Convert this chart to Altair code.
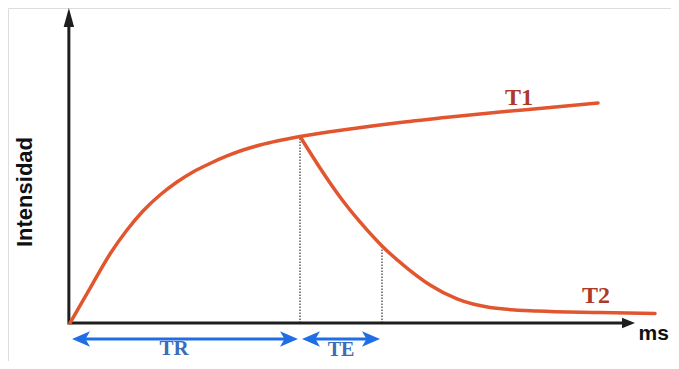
import altair as alt
import pandas as pd

# ---- data (arbitrary units: time axis 0..100, intensity 0..100) ----
t1_x = [0, 4.07, 7.08, 10.09, 12.92, 15.93, 18.94, 21.77, 24.78, 27.79, 30.62,
        33.63, 36.64, 40.71, 49.56, 58.41, 67.26, 76.11, 84.96, 93.45]
t1_y = [0, 12.86, 22.19, 29.90, 36.01, 41.16, 45.34, 48.55, 51.29, 53.70, 55.63,
        57.23, 58.52, 59.97, 62.38, 64.47, 66.24, 67.85, 69.29, 70.74]

t2_x = [40.71, 44.25, 47.79, 51.33, 55.22, 59.65, 63.72, 68.50, 74.34, 82.65, 93.81, 103.54]
t2_y = [59.97, 49.84, 40.51, 32.48, 24.76, 17.68, 12.22, 7.72, 4.98, 3.86, 3.38, 3.05]

TR = 40.71          # repetition time mark
TE_END = 55.22      # echo time mark
dotted_x = [TR, TE_END]
dotted_top = [59.97, 24.76]

axis_x_end = 98.0
axis_y_end = 95.5
xhead = [98.85]
yhead = [98.23]

arrow_y = -5.14
blue_segments_x1 = [1.95, 42.65]
blue_segments_x2 = [38.76, 53.27]
blue_left_heads = [1.95, 42.65]
blue_right_heads = [38.76, 53.27]

curve_labels = ["T1", "T2"]
curve_label_x = [79.47, 93.10]
curve_label_y = [70.10, 6.43]

tr_label = ("TR", 18.41, -10.29)
te_label = ("TE", 47.96, -10.61)

axis_title_y = "Intensidad"
axis_title_y_pos = (-7.96, 42.12)
axis_title_x = "ms"
axis_title_x_pos = (106.0, -5.5)

X_DOMAIN = [-10.973, 106.372]
Y_DOMAIN = [-12.219, 101.286]

# ---- helpers ----
xs = alt.Scale(domain=X_DOMAIN, nice=False, zero=False)
ys = alt.Scale(domain=Y_DOMAIN, nice=False, zero=False)


def X(f):
    return alt.X(f"{f}:Q", scale=xs, axis=None)


def Y(f):
    return alt.Y(f"{f}:Q", scale=ys, axis=None)


CURVE = "#e2562f"
LABEL_RED = "#ad3a29"
BLUE = "#1f6ee6"
BLUE_TEXT = "#3a6cb8"
AXIS = "#1e1e1e"

curves = pd.DataFrame(
    {"x": t1_x + t2_x, "y": t1_y + t2_y,
     "series": ["T1"] * len(t1_x) + ["T2"] * len(t2_x)}
)
line_layer = alt.Chart(curves).mark_line(
    interpolate="monotone", color=CURVE, strokeWidth=3.5, strokeCap="round"
).encode(x=X("x"), y=Y("y"), detail="series:N")

dots = pd.DataFrame({"x": dotted_x, "y1": [0, 0], "y2": dotted_top})
dotted_layer = alt.Chart(dots).mark_rule(
    color="#333333", strokeWidth=1.2, strokeDash=[1.5, 1.5]
).encode(x=X("x"), y=Y("y1"), y2="y2:Q")

axes_df = pd.DataFrame({"x1": [0, -0.2], "x2": [axis_x_end, -0.2],
                        "y1": [0, -0.5], "y2": [0, axis_y_end]})
axes_layer = alt.Chart(axes_df).mark_rule(color=AXIS, strokeWidth=3).encode(
    x=X("x1"), x2="x2:Q", y=Y("y1"), y2="y2:Q")

xhead_layer = alt.Chart(pd.DataFrame({"x": xhead, "y": [0]})).mark_point(
    shape="M1,0L-1,-0.8L-1,0.8Z", filled=True, size=169, color=AXIS, opacity=1, strokeWidth=0
).encode(x=X("x"), y=Y("y"))
yhead_layer = alt.Chart(pd.DataFrame({"x": [-0.2], "y": yhead})).mark_point(
    shape="M0,-1L0.55,1L-0.55,1Z", filled=True, size=361, color=AXIS, opacity=1, strokeWidth=0
).encode(x=X("x"), y=Y("y"))

blue_df = pd.DataFrame({"x1": blue_segments_x1, "x2": blue_segments_x2,
                        "y": [arrow_y] * 2})
blue_rule_layer = alt.Chart(blue_df).mark_rule(color=BLUE, strokeWidth=3).encode(
    x=X("x1"), x2="x2:Q", y=Y("y"))
blue_left_layer = alt.Chart(pd.DataFrame({"x": blue_left_heads, "y": [arrow_y] * 2})).mark_point(
    shape="M-1,0L1,-0.85L0.5,0L1,0.85Z", filled=True, size=324, color=BLUE, opacity=1, strokeWidth=0
).encode(x=X("x"), y=Y("y"))
blue_right_layer = alt.Chart(pd.DataFrame({"x": blue_right_heads, "y": [arrow_y] * 2})).mark_point(
    shape="M1,0L-1,-0.85L-0.5,0L-1,0.85Z", filled=True, size=324, color=BLUE, opacity=1, strokeWidth=0
).encode(x=X("x"), y=Y("y"))

curve_label_layer = alt.Chart(pd.DataFrame(
    {"x": curve_label_x, "y": curve_label_y, "t": curve_labels})).mark_text(
    font="Liberation Serif", fontSize=24, fontWeight="bold", color=LABEL_RED,
    align="center", baseline="alphabetic"
).encode(x=X("x"), y=Y("y"), text="t:N")

tr_layer = alt.Chart(pd.DataFrame(
    {"x": [tr_label[1]], "y": [tr_label[2]], "t": [tr_label[0]]})).mark_text(
    font="Liberation Serif", fontSize=21, fontWeight="bold", color=BLUE_TEXT,
    align="center", baseline="alphabetic"
).encode(x=X("x"), y=Y("y"), text="t:N")

te_layer = alt.Chart(pd.DataFrame(
    {"x": [te_label[1]], "y": [te_label[2]], "t": [te_label[0]]})).mark_text(
    font="Liberation Serif", fontSize=20, fontWeight="bold", color=BLUE_TEXT,
    align="center", baseline="alphabetic"
).encode(x=X("x"), y=Y("y"), text="t:N")

ytitle_layer = alt.Chart(pd.DataFrame(
    {"x": [axis_title_y_pos[0]], "y": [axis_title_y_pos[1]], "t": [axis_title_y]})).mark_text(
    font="Liberation Sans", fontSize=22, fontWeight="bold", color="#111111",
    align="center", baseline="middle", angle=270
).encode(x=X("x"), y=Y("y"), text="t:N")

xtitle_layer = alt.Chart(pd.DataFrame(
    {"x": [axis_title_x_pos[0]], "y": [axis_title_x_pos[1]], "t": [axis_title_x]})).mark_text(
    font="Liberation Sans", fontSize=21, fontWeight="bold", color="#111111",
    align="right", baseline="alphabetic"
).encode(x=X("x"), y=Y("y"), text="t:N")

chart = alt.layer(
    dotted_layer, axes_layer, xhead_layer, yhead_layer,
    line_layer,
    blue_rule_layer, blue_left_layer, blue_right_layer,
    curve_label_layer, tr_layer, te_layer, ytitle_layer, xtitle_layer,
).properties(
    width=663, height=353,
    autosize=alt.AutoSizeParams(type="none"),
    padding=0,
).configure_view(stroke=None).configure(background="white")

chart.save("out.html", embed_options={"renderer": "svg", "actions": False})
